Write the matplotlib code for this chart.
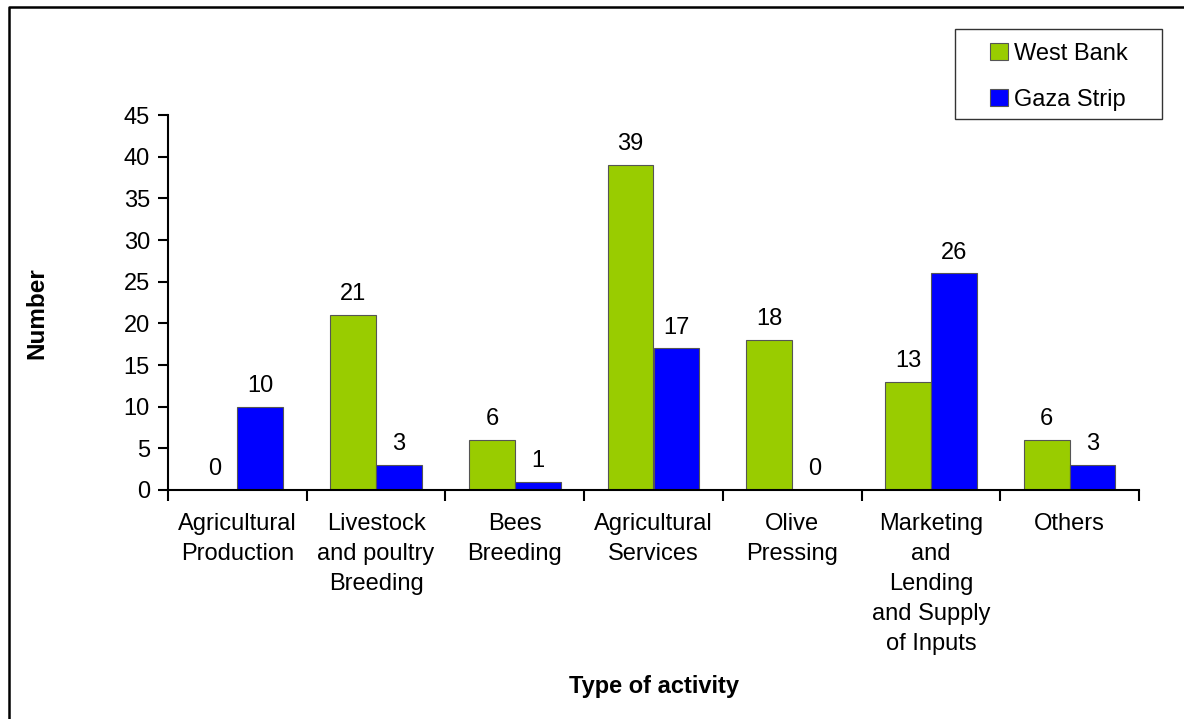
import numpy as np
import matplotlib
matplotlib.use('Agg')
import matplotlib.pyplot as plt
from matplotlib.lines import Line2D
from matplotlib.patches import Rectangle

plt.rcParams['font.family'] = ['Liberation Sans', 'DejaVu Sans']

##############################
# Data
categories = ['Agricultural\nProduction', 'Livestock\nand poultry\nBreeding', 'Bees\nBreeding',
              'Agricultural\nServices', 'Olive\nPressing',
              'Marketing\nand\nLending\nand Supply\nof Inputs', 'Others']
west_bank = [0, 21, 6, 39, 18, 13, 6]
gaza_strip = [10, 3, 1, 17, 0, 26, 3]
yticks = [0, 5, 10, 15, 20, 25, 30, 35, 40, 45]

FS = 17

##############################
# Plot
fig = plt.figure(figsize=(11.84, 7.19), dpi=100)
ax = fig.add_axes([168/1184, 1-490/719, (1139-168)/1184, (490-115)/719])

x = np.arange(len(categories))
w = 0.33
b1 = ax.bar(x - w/2, west_bank, w, color='#99CC00', edgecolor='#555555', linewidth=0.8, label='West Bank')
b2 = ax.bar(x + w/2, gaza_strip, w, color='#0000FF', edgecolor='#555555', linewidth=0.8, label='Gaza Strip')

for bars, vals in ((b1, west_bank), (b2, gaza_strip)):
    for r, v in zip(bars, vals):
        ax.annotate('%d' % v, (r.get_x() + r.get_width()/2, v), xytext=(0, 7),
                    textcoords='offset points', ha='center', va='bottom', fontsize=FS)

ax.set_xlim(-0.5, len(categories) - 0.5)
ax.set_ylim(0, 45)
ax.set_yticks(yticks)
ax.tick_params(axis='y', labelsize=FS, direction='out', length=7, width=1.5, pad=6)

# category boundaries as ticks, labels centered
ax.set_xticks(np.arange(len(categories) + 1) - 0.5)
ax.set_xticklabels([])
ax.tick_params(axis='x', direction='out', length=8, width=1.5)
for i, c in enumerate(categories):
    ax.text(i, -2.8, c, ha='center', va='top', fontsize=FS, linespacing=1.46)

for s in ('top', 'right'):
    ax.spines[s].set_visible(False)
for s in ('left', 'bottom'):
    ax.spines[s].set_linewidth(1.5)

fig.text(37/1184, 1-313/719, 'Number', rotation=90, ha='center', va='center', fontsize=17.5, fontweight='bold')
fig.text(654/1184, 1-686/719, 'Type of activity', ha='center', va='center', fontsize=17, fontweight='bold')

# legend box drawn separately so it can be wider than the entries
fig.add_artist(Rectangle((955/1184, 1-119/719), (1162-955)/1184, (119-29)/719,
                         transform=fig.transFigure, fill=False, edgecolor='#333333', linewidth=1.0))
leg = ax.legend(loc='upper left', bbox_to_anchor=(990/1184, 1-43/719), bbox_transform=fig.transFigure,
                fontsize=FS, frameon=False, handlelength=0.75, handleheight=0.75,
                handletextpad=0.25, labelspacing=1.0, borderpad=0, borderaxespad=0)

# outer border (top and left only visible)
fig.add_artist(Line2D([8.5/1184, 8.5/1184, 1.0], [0.0, 1-6.5/719, 1-6.5/719],
                      transform=fig.transFigure, color='black', linewidth=1.8))

fig.savefig('out.png', dpi=100)
